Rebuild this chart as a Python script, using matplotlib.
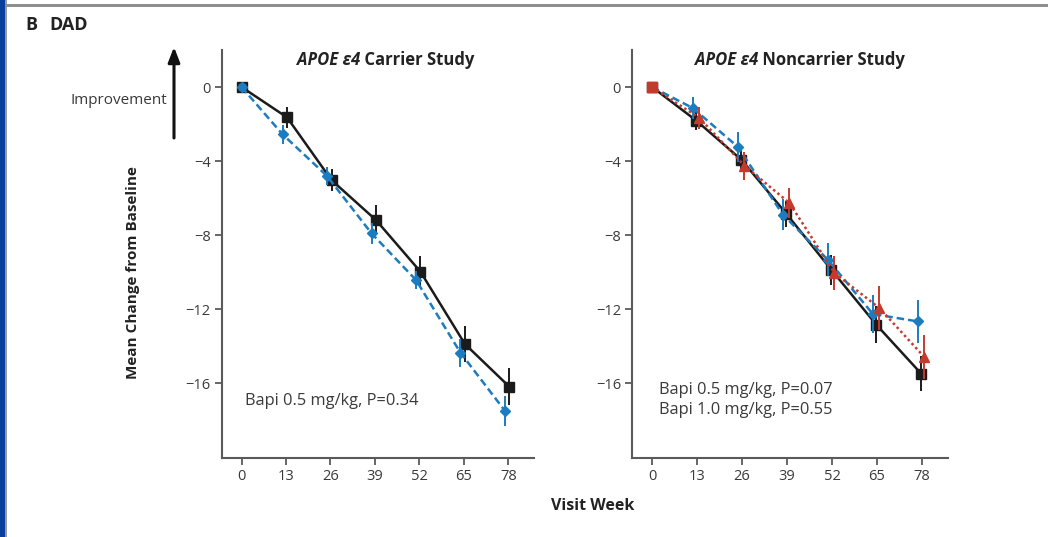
import numpy as np
import matplotlib
matplotlib.use("Agg")
import matplotlib.pyplot as plt
from matplotlib.patches import Rectangle

plt.rcParams['font.family'] = ['Open Sans', 'DejaVu Sans']

# ---- data ----
weeks = np.array([0, 13, 26, 39, 52, 65, 78])
week_labels = ["0", "13", "26", "39", "52", "65", "78"]
y_ticks = [0, -4, -8, -12, -16]

carrier_placebo = [0, -1.64, -5.03, -7.19, -9.98, -13.89, -16.2]
carrier_placebo_err = [0, 0.57, 0.6, 0.8, 0.85, 0.95, 1.0]
carrier_bapi05 = [0, -2.56, -4.81, -7.91, -10.43, -14.36, -17.5]
carrier_bapi05_err = [0, 0.5, 0.5, 0.55, 0.5, 0.75, 0.8]

noncarrier_placebo = [0, -1.82, -3.93, -6.85, -9.88, -12.85, -15.5]
noncarrier_placebo_err = [0, 0.5, 0.5, 0.7, 0.8, 1.0, 0.95]
noncarrier_bapi05 = [0, -1.14, -3.24, -6.9, -9.34, -12.27, -12.67]
noncarrier_bapi05_err = [0, 0.6, 0.8, 0.85, 0.9, 1.05, 1.15]
noncarrier_bapi10 = [0, -1.68, -4.25, -6.27, -10.05, -11.95, -14.6]
noncarrier_bapi10_err = [0, 0.6, 0.75, 0.8, 0.9, 1.2, 1.2]

carrier_note = ["Bapi 0.5 mg/kg, P=0.34"]
noncarrier_note = ["Bapi 0.5 mg/kg, P=0.07", "Bapi 1.0 mg/kg, P=0.55"]

# ---- style ----
BLACK = "#1b1b1b"
BLUE = "#1b7cc0"
RED = "#c53a2c"
AXIS = "#5a5a5a"
TEXT = "#3a3a3a"
TICK_FS = 10.5
NOTE_FS = 11.8
LABEL_FS = 11.5

W, H = 1048, 537
fig = plt.figure(figsize=(W / 100, H / 100), dpi=100)


def fx(px):
    return px / W


def fy(py):
    return 1 - py / H


def series(ax, values, errs, shift, color, ls, marker, ms, lw, z, first_marker=None):
    x = weeks + np.where(weeks == 0, 0, shift)
    ax.errorbar(x, values, yerr=errs, color=color, ls=ls, lw=lw, marker=marker,
                ms=ms, mfc=color, mec=color, elinewidth=1.4, capsize=0,
                zorder=z)
    if first_marker:
        ax.plot(x[:1], values[:1], ls="none", marker=first_marker, ms=ms - 0.5,
                color=color, zorder=z + 0.5)


def style_axes(ax):
    ax.set_xlim(-5.8, 85.5)
    ax.set_ylim(-20.05, 2.0)
    for s in ("top", "right"):
        ax.spines[s].set_visible(False)
    for s in ("left", "bottom"):
        ax.spines[s].set_color(AXIS)
        ax.spines[s].set_linewidth(1.5)
    ax.set_xticks(weeks)
    ax.set_xticklabels(week_labels)
    ax.set_yticks(y_ticks)
    ax.set_yticklabels([("\u2212" + str(-v)) if v < 0 else str(v) for v in y_ticks])
    ax.tick_params(direction="out", length=5, width=1.3, color=AXIS,
                   labelsize=TICK_FS, labelcolor=TEXT, pad=3)
    ax.patch.set_alpha(0)


def title(x_px, y_px, study):
    t1 = fig.text(fx(x_px), fy(y_px), "APOE \u03b54", fontsize=12,
                  fontweight="bold", style="italic", color="#222222",
                  ha="left", va="center")
    fig.add_artist(plt.Annotation(" " + study, xy=(1, 0.5), xycoords=t1,
                                  va="center", ha="left", fontsize=12,
                                  fontweight="bold", color="#222222"))


# left panel: carrier study
ax1 = fig.add_axes([fx(221.7), fy(458), fx(534 - 221.7), (458 - 50) / H])
style_axes(ax1)
series(ax1, carrier_placebo, carrier_placebo_err, 0.3, BLACK, "-", "s", 7, 1.8, 3)
series(ax1, carrier_bapi05, carrier_bapi05_err, -1.0, BLUE, (0, (3, 1.6)), "D",
       5.5, 1.8, 4, first_marker="s")
ax1.text(1.1, -16.97, carrier_note[0], fontsize=NOTE_FS, color=TEXT, va="center")

# right panel: noncarrier study
ax2 = fig.add_axes([fx(632), fy(458), fx(948 - 632), (458 - 50) / H])
style_axes(ax2)
series(ax2, noncarrier_placebo, noncarrier_placebo_err, -0.2, BLACK, "-", "s", 7, 1.8, 3)
series(ax2, noncarrier_bapi05, noncarrier_bapi05_err, -1.2, BLUE, (0, (3, 1.6)), "D",
       5.5, 1.8, 4)
series(ax2, noncarrier_bapi10, noncarrier_bapi10_err, 0.7, RED, (0, (1, 1.2)), "^",
       7, 1.8, 5, first_marker="s")
ax2.text(2.0, -16.37, noncarrier_note[0], fontsize=NOTE_FS, color=TEXT, va="center")
ax2.text(2.0, -17.45, noncarrier_note[1], fontsize=NOTE_FS, color=TEXT, va="center")

title(297, 60, "Carrier Study")
title(695, 60, "Noncarrier Study")

# shared labels
fig.text(fx(25), fy(25), "B", fontsize=13, fontweight="bold", color="#222222",
         ha="left", va="center")
fig.text(fx(49), fy(25), "DAD", fontsize=13, fontweight="bold", color="#222222",
         ha="left", va="center")
fig.text(fx(133), fy(273), "Mean Change from Baseline", rotation=90,
         fontsize=11, fontweight="bold", color="#222222", ha="center", va="center")
fig.text(fx(593), fy(506), "Visit Week", fontsize=LABEL_FS, fontweight="bold",
         color="#222222", ha="center", va="center")
fig.text(fx(167), fy(101), "Improvement", fontsize=11, color=TEXT,
         ha="right", va="center")
fig.add_artist(plt.Annotation("", xy=(fx(174), fy(47)), xycoords="figure fraction",
                              xytext=(fx(174), fy(138)), textcoords="figure fraction",
                              arrowprops=dict(arrowstyle="-|>,head_length=0.9,head_width=0.35",
                                              color="#111111", lw=2.2, shrinkA=0, shrinkB=0)))

# page frame
fig.add_artist(Rectangle((0, 0), fx(4.5), 1, transform=fig.transFigure,
                         color="#0b3d9c", lw=0, zorder=10))
fig.add_artist(Rectangle((fx(4.5), 0), fx(2), 1, transform=fig.transFigure,
                         color="#9a9a9a", lw=0, zorder=10))
fig.add_artist(Rectangle((fx(4.5), fy(6.5)), 1, 2.5 / H, transform=fig.transFigure,
                         color="#8f8f8f", lw=0, zorder=10))

fig.savefig("out.png", dpi=100)
